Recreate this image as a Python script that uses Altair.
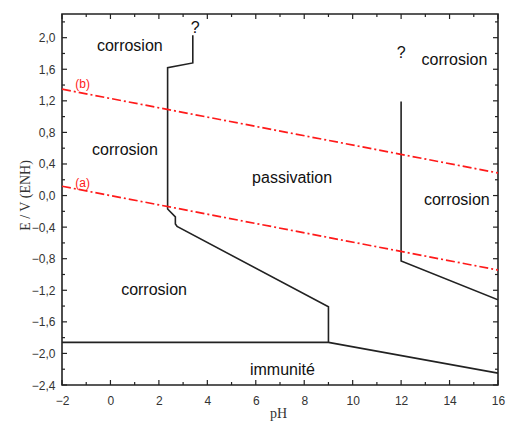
import altair as alt
import pandas as pd

# ---- data ----
# boundary 1: upper-left to pH 9
b1_ph = [3.40, 3.40, 2.36, 2.36, 2.68, 2.68, 2.75, 9.00, 9.00]
b1_e = [2.03, 1.68, 1.62, -0.17, -0.27, -0.36, -0.39, -1.41, -1.86]
# boundary 2: immunity line
b2_ph = [-2.0, 9.0, 16.0]
b2_e = [-1.86, -1.86, -2.25]
# boundary 3: right
b3_ph = [12.0, 12.0, 16.0]
b3_e = [1.19, -0.83, -1.32]
# water lines
wa_ph = [-2.0, 16.0]
wa_e = [0.118, -0.944]
wb_ph = [-2.0, 16.0]
wb_e = [1.348, 0.286]

lab_text = ["corrosion", "corrosion", "passivation", "corrosion", "corrosion", "corrosion",
            "immunité", "?", "?"]
lab_ph = [0.80, 0.60, 7.50, 14.20, 14.30, 1.80, 7.10, 3.50, 12.00]
lab_e = [1.90, 0.58, 0.22, 1.72, -0.06, -1.20, -2.21, 2.12, 1.80]

red_text = ["(b)", "(a)"]
red_ph = [-1.15, -1.15]
red_e = [1.41, 0.16]

x_major = [-2, 0, 2, 4, 6, 8, 10, 12, 14, 16]
x_minor = [-1, 1, 3, 5, 7, 9, 11, 13, 15]
y_major = [-2.4, -2.0, -1.6, -1.2, -0.8, -0.4, 0.0, 0.4, 0.8, 1.2, 1.6, 2.0]
y_minor = [-2.2, -1.8, -1.4, -1.0, -0.6, -0.2, 0.2, 0.6, 1.0, 1.4, 1.8, 2.2]

W, H = 436, 371

rows = []
for name, xs, es in [("b1", b1_ph, b1_e), ("b2", b2_ph, b2_e), ("b3", b3_ph, b3_e)]:
    for i, (x, e) in enumerate(zip(xs, es)):
        rows.append({"g": name, "i": i, "pH": x, "E": e})
bdf = pd.DataFrame(rows)

wrows = []
for name, xs, es in [("a", wa_ph, wa_e), ("b", wb_ph, wb_e)]:
    for i, (x, e) in enumerate(zip(xs, es)):
        wrows.append({"g": name, "i": i, "pH": x, "E": e})
wdf = pd.DataFrame(wrows)

ldf = pd.DataFrame({"t": lab_text, "pH": lab_ph, "E": lab_e})
rdf = pd.DataFrame({"t": red_text, "pH": red_ph, "E": red_e})

xs = alt.Scale(domain=[-2, 16], nice=False, zero=False)
ys = alt.Scale(domain=[-2.4, 2.3], nice=False, zero=False)

xaxis = alt.Axis(values=x_major, ticks=False, domain=False, grid=False,
                 labelOverlap=False, labelFlush=False, labelBound=False,
                 labelFont="Liberation Sans", labelFontSize=12, labelColor="#333",
                 labelPadding=10, title="pH", titleFont="Liberation Serif",
                 titleFontSize=14, titleFontWeight="normal", titleColor="#333",
                 titleX=216, titleY=28, titleBaseline="middle")
yaxis = alt.Axis(values=y_major, ticks=False, domain=False, grid=False,
                 labelOverlap=False, labelFlush=False, labelBound=False,
                 labelExpr="replace(format(datum.value, '.1f'), '.', ',')",
                 labelFont="Liberation Sans", labelFontSize=12, labelColor="#333",
                 labelPadding=7, title="E / V (ENH)", titleFont="Liberation Serif",
                 titleFontSize=14, titleFontWeight="normal", titleColor="#333",
                 titleX=-37, titleY=181, titleBaseline="middle", titleAlign="center")

px = alt.X("pH:Q", scale=xs, axis=xaxis)
py = alt.Y("E:Q", scale=ys, axis=yaxis)

bound = alt.Chart(bdf).mark_line(color="#222", strokeWidth=1.6, clip=True).encode(
    x=px, y=py, detail="g:N", order="i:Q")

water = alt.Chart(wdf).mark_line(color="#ff1a1a", strokeWidth=1.7,
                                 strokeDash=[9, 3, 2, 3], clip=True).encode(
    x=px, y=py, detail="g:N", order="i:Q")

labels = alt.Chart(ldf).mark_text(font="Liberation Sans", fontSize=16, color="#111").encode(
    x=px, y=py, text="t:N")

red_labels = alt.Chart(rdf).mark_text(font="Liberation Sans", fontSize=12, color="#ff1a1a").encode(
    x=px, y=py, text="t:N")

# inward ticks on all four sides
def xt(vals, length, top):
    df = pd.DataFrame({"pH": vals})
    if top:
        y1, y2 = alt.value(0), alt.value(length)
    else:
        y1, y2 = alt.value(H), alt.value(H - length)
    return alt.Chart(df).mark_rule(color="#222", strokeWidth=1.2).encode(
        x=px, y=y1, y2=y2)

def yt(vals, length, left):
    df = pd.DataFrame({"E": vals})
    if left:
        x1, x2 = alt.value(0), alt.value(length)
    else:
        x1, x2 = alt.value(W), alt.value(W - length)
    return alt.Chart(df).mark_rule(color="#222", strokeWidth=1.2).encode(
        y=py, x=x1, x2=x2)

ticks = [xt(x_major, 5, False), xt(x_minor, 3, False), xt(x_major, 5, True), xt(x_minor, 3, True),
         yt(y_major, 5, True), yt(y_minor, 3, True), yt(y_major, 5, False), yt(y_minor, 3, False)]

chart = alt.layer(bound, water, labels, red_labels, *ticks).properties(
    width=W, height=H,
    background="white",
    autosize=alt.AutoSizeParams(type="none"),
    padding={"left": 62, "top": 14, "right": 11, "bottom": 36},
).configure_view(stroke="#222", strokeWidth=1.6).configure_axis(labelOverlap=False)

chart.save("out.html", embed_options={"renderer": "svg", "actions": False})
